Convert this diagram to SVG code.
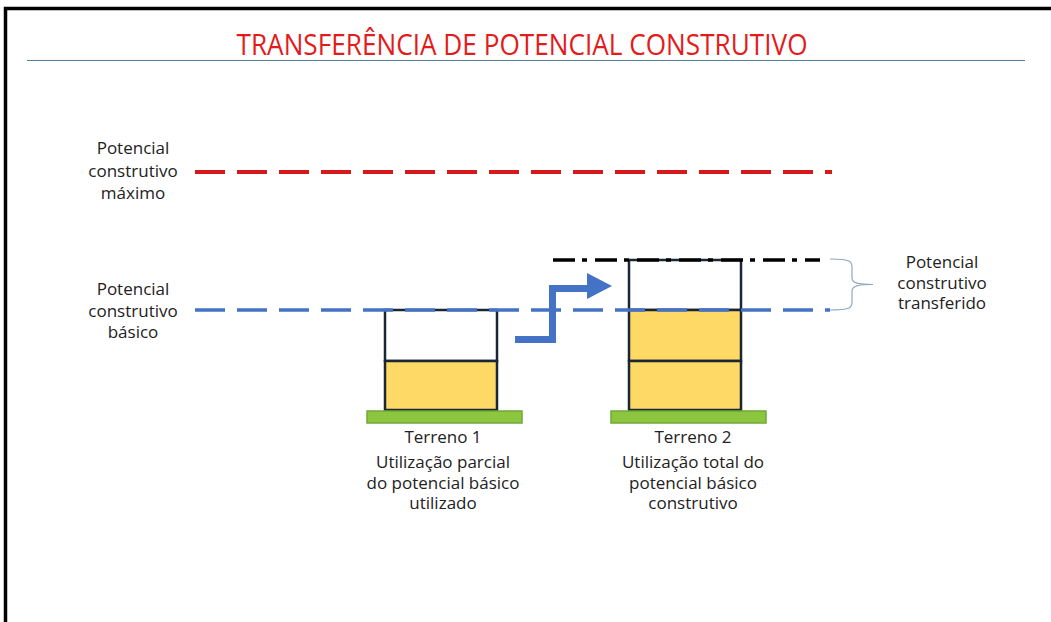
<svg xmlns="http://www.w3.org/2000/svg" width="1051" height="622" viewBox="0 0 1051 622">
<style>
.lbl{font-family:"Open Sans","Liberation Sans",sans-serif;font-size:17px;fill:#222;text-anchor:middle}
.box{stroke:#1b2635;stroke-width:2.5}
.base{fill:#8cc63f;stroke:#6fa83a;stroke-width:1.5}
</style>
<rect x="0" y="0" width="1051" height="622" fill="#fff"/>
<path d="M5.5 622 V8.5 H1051" fill="none" stroke="#000" stroke-width="3.5"/>
<text x="522" y="55" font-family="Open Sans, Liberation Sans, sans-serif" font-size="29" fill="#e31b1b" text-anchor="middle" textLength="571" lengthAdjust="spacingAndGlyphs">TRANSFERÊNCIA DE POTENCIAL CONSTRUTIVO</text>
<line x1="27" y1="60.5" x2="1025" y2="60.5" stroke="#5b7a94" stroke-width="1"/>

<g id="linha-maximo">
<line x1="195" y1="172" x2="832" y2="172" stroke="#d7191c" stroke-width="4" stroke-dasharray="30 12"/>
<text class="lbl"><tspan x="133" y="154">Potencial</tspan><tspan x="133" y="177">construtivo</tspan><tspan x="133" y="199">máximo</tspan></text>
</g>

<g id="terreno1">
<rect x="385" y="310" width="112" height="51" fill="#fff" class="box"/>
<rect x="385" y="361" width="112" height="49" fill="#ffd966" class="box"/>
<rect x="367" y="411" width="155" height="12" class="base"/>
<text class="lbl"><tspan x="443" y="443">Terreno 1</tspan><tspan x="443" y="468">Utilização parcial</tspan><tspan x="443" y="489">do potencial básico</tspan><tspan x="443" y="509">utilizado</tspan></text>
</g>

<g id="terreno2">
<rect x="629" y="260" width="112" height="50" fill="#fff" class="box"/>
<rect x="629" y="310" width="112" height="51" fill="#ffd966" class="box"/>
<rect x="629" y="361" width="112" height="49" fill="#ffd966" class="box"/>
<rect x="611" y="411" width="155" height="12" class="base"/>
<text class="lbl"><tspan x="693" y="443">Terreno 2</tspan><tspan x="693" y="468">Utilização total do</tspan><tspan x="693" y="489">potencial básico</tspan><tspan x="693" y="509">construtivo</tspan></text>
</g>

<g id="linha-basico">
<line x1="195" y1="310" x2="830" y2="310" stroke="#4472c4" stroke-width="3.5" stroke-dasharray="30 12"/>
<text class="lbl"><tspan x="133" y="295">Potencial</tspan><tspan x="133" y="317">construtivo</tspan><tspan x="133" y="338">básico</tspan></text>
</g>

<g id="linha-transferido">
<line x1="553" y1="260" x2="820" y2="260" stroke="#000" stroke-width="3.5" stroke-dasharray="22 7 5 8"/>
<path d="M830 259 C852 259 852 262 852 268 V278 C852 283 858 284.5 873 284.5 C858 284.5 852 286 852 291 V302 C852 308 850 310 830 310" fill="none" stroke="#8eaac4" stroke-width="1.2"/>
<text class="lbl"><tspan x="942" y="268">Potencial</tspan><tspan x="942" y="289">construtivo</tspan><tspan x="942" y="309">transferido</tspan></text>
</g>

<g id="connectors">
<path d="M515 336 H549 V285 H587 V273 L612 286 L587 299 V292 H556 V343 H515 Z" fill="#4472c4"/>
</g>
</svg>
